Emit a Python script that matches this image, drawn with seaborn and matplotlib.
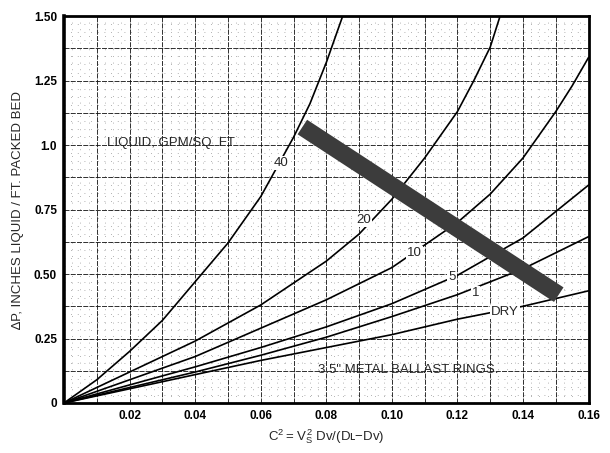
import numpy as np
import pandas as pd
import matplotlib
matplotlib.use('Agg')
import matplotlib.pyplot as plt
import seaborn as sns
from matplotlib.ticker import MultipleLocator

# 曲线数据
c_sq = [0, 0.02, 0.04, 0.06, 0.08, 0.10, 0.12, 0.14, 0.16]

curve_40_x = [0, 0.01, 0.02, 0.03, 0.04, 0.05, 0.06, 0.07, 0.075, 0.08, 0.0825, 0.085]
curve_40_y = [0, 0.09, 0.20, 0.32, 0.47, 0.62, 0.80, 1.03, 1.16, 1.32, 1.41, 1.50]

curve_20_x = [0, 0.02, 0.04, 0.06, 0.08, 0.09, 0.10, 0.11, 0.12, 0.125, 0.13, 0.133]
curve_20_y = [0, 0.12, 0.24, 0.38, 0.55, 0.655, 0.79, 0.95, 1.13, 1.25, 1.38, 1.50]

curve_10_x = [0, 0.02, 0.04, 0.06, 0.08, 0.10, 0.12, 0.13, 0.14, 0.15, 0.155, 0.16]
curve_10_y = [0, 0.09, 0.18, 0.29, 0.40, 0.525, 0.70, 0.81, 0.95, 1.13, 1.23, 1.34]

curve_5_y = [0, 0.07, 0.14, 0.215, 0.295, 0.385, 0.495, 0.64, 0.845]
curve_1_y = [0, 0.06, 0.12, 0.185, 0.255, 0.335, 0.42, 0.52, 0.645]
curve_dry_y = [0, 0.055, 0.11, 0.165, 0.215, 0.265, 0.325, 0.375, 0.435]

# 液泛区 (粗黑带)
flood_x = [0.0727, 0.1509]
flood_y = [1.07, 0.42]

# 曲线标签
curve_labels = ['40', '20', '10', '5', '1', 'DRY']
label_x = [0.0662, 0.0915, 0.1070, 0.1184, 0.1255, 0.1345]
label_y = [0.93, 0.709, 0.581, 0.488, 0.426, 0.353]

x_ticks = [0.02, 0.04, 0.06, 0.08, 0.10, 0.12, 0.14, 0.16]
x_tick_labels = ['0.02', '0.04', '0.06', '0.08', '0.10', '0.12', '0.14', '0.16']
y_ticks = [0, 0.25, 0.50, 0.75, 1.0, 1.25, 1.50]
y_tick_labels = ['0', '0.25', '0.50', '0.75', '1.0', '1.25', '1.50']

sns.set_theme(style='white')
plt.rcParams['font.family'] = ['Liberation Sans', 'DejaVu Sans']

fig = plt.figure(figsize=(6.1, 4.53), dpi=100)
ax = fig.add_axes([0.1049, 0.1104, 0.860, 0.854])

# 网格: 点状细网格 + 虚线主网格
for xv in np.arange(0, 0.1601, 0.0025):
    ax.axvline(xv, color='#999999', lw=0.6, ls=(0, (1, 7)), zorder=0)
for yv in np.arange(0, 1.5001, 0.03125):
    ax.axhline(yv, color='#999999', lw=0.6, ls=(0, (1, 7)), zorder=0)
ax.xaxis.set_minor_locator(MultipleLocator(0.01))
ax.yaxis.set_minor_locator(MultipleLocator(0.125))
ax.grid(True, which='both', color='#111111', lw=0.6, ls=(0, (6, 1.5)), zorder=0.5)

curves = [
    (curve_40_x, curve_40_y),
    (curve_20_x, curve_20_y),
    (curve_10_x, curve_10_y),
    (c_sq, curve_5_y),
    (c_sq, curve_1_y),
    (c_sq, curve_dry_y),
]
for cx, cy in curves:
    df = pd.DataFrame({'x': cx, 'y': cy})
    sns.lineplot(data=df, x='x', y='y', color='black', lw=1.2, sort=False,
                 ax=ax, zorder=3)

for txt, lx, ly in zip(curve_labels, label_x, label_y):
    ax.text(lx, ly, txt, fontsize=9.5, ha='center', va='center', zorder=4,
            bbox=dict(facecolor='white', edgecolor='none', pad=0.8))

ax.plot(flood_x, flood_y, color='#3c3c3c', lw=12.5, solid_capstyle='butt', zorder=5)

ax.text(0.0130, 1.01, 'LIQUID, GPM/SQ. FT', fontsize=9.5, ha='left', va='center', zorder=4)
ax.text(0.0775, 0.128, '3.5" METAL BALLAST RINGS.', fontsize=9.5, ha='left', va='center', zorder=4)

ax.set_xlim(0, 0.16)
ax.set_ylim(0, 1.5)
ax.set_xticks(x_ticks, x_tick_labels)
ax.set_yticks(y_ticks, y_tick_labels)
ax.tick_params(axis='both', which='both', length=0, labelsize=8.5, colors='black', pad=5)
for lab in ax.get_xticklabels() + ax.get_yticklabels():
    lab.set_fontweight('bold')

ax.set_xlabel(r'$\mathregular{C^2 = V_S^{\,2}}$ Dᴠ/(Dʟ$\mathregular{-}$Dᴠ)', fontsize=9.5, labelpad=4)
ax.set_ylabel('\u2206P, INCHES LIQUID / FT. PACKED BED', fontsize=9.5, labelpad=7)

for side in ['left', 'right', 'top', 'bottom']:
    ax.spines[side].set_visible(True)
    ax.spines[side].set_color('black')
    ax.spines[side].set_linewidth(2)
ax.spines['left'].set_linewidth(2.6)

fig.savefig('out.png', dpi=100)
